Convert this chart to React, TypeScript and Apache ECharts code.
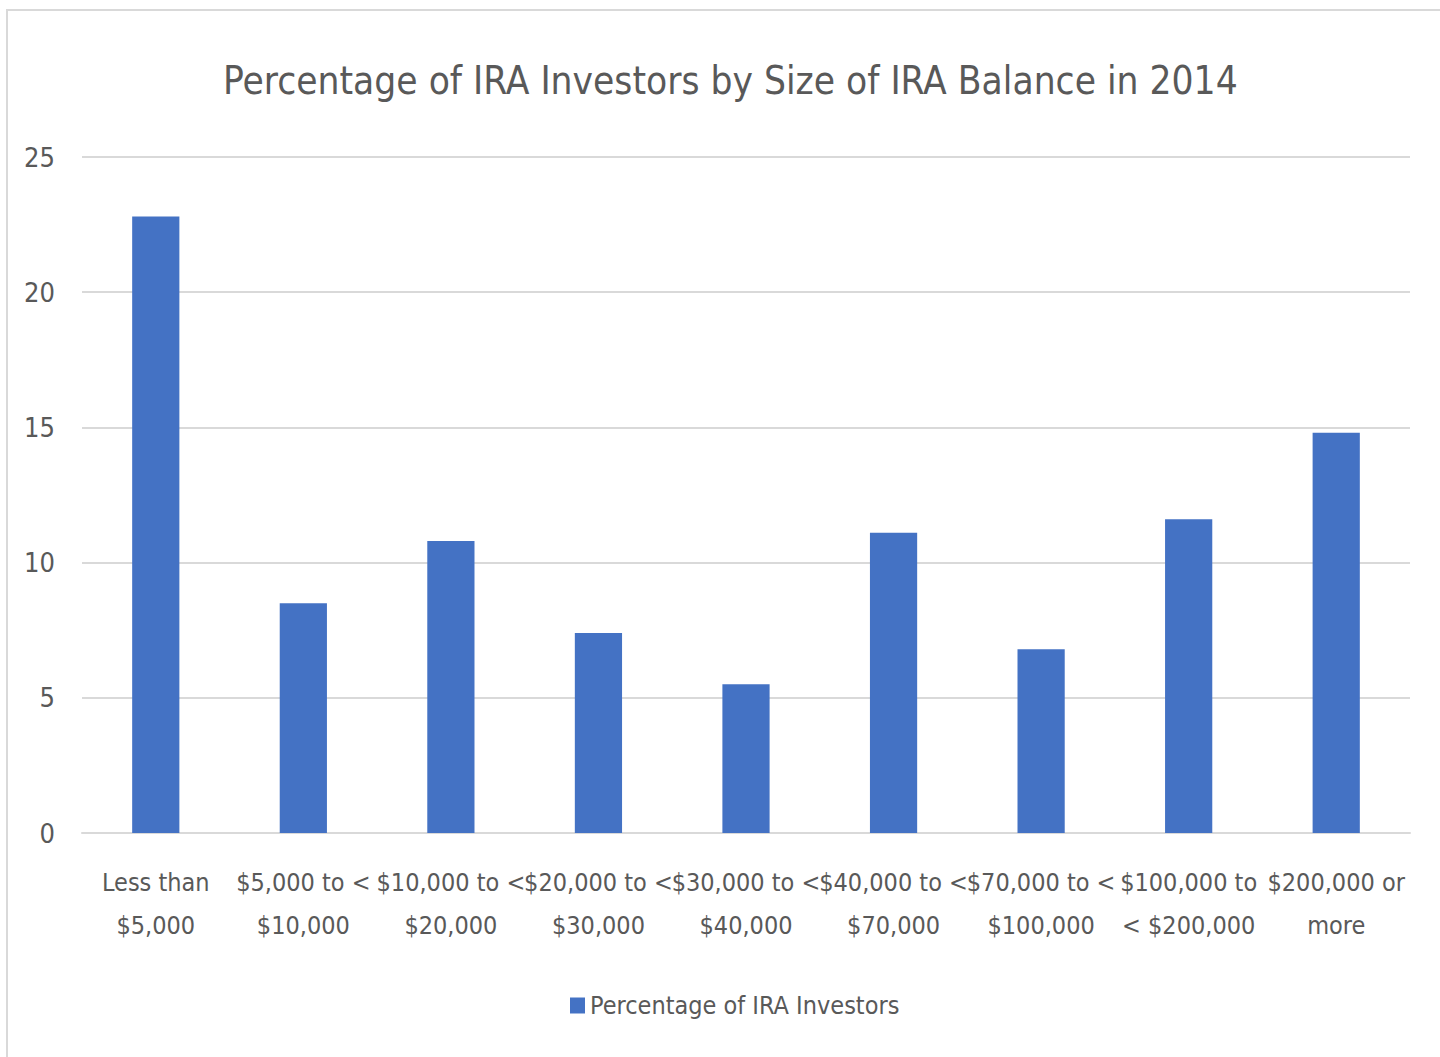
import React, { useEffect, useRef } from "react";
import * as echarts from "echarts";

const categories = [
  "Less than\n$5,000",
  "$5,000 to <\n$10,000",
  "$10,000 to <\n$20,000",
  "$20,000 to <\n$30,000",
  "$30,000 to <\n$40,000",
  "$40,000 to <\n$70,000",
  "$70,000 to <\n$100,000",
  "$100,000 to\n< $200,000",
  "$200,000 or\nmore",
];
const values = [22.8, 8.5, 10.8, 7.4, 5.5, 11.1, 6.8, 11.6, 14.8];
const seriesName = "Percentage of IRA Investors";
const titleText = "Percentage of IRA Investors by Size of IRA Balance in 2014";

const FONT = "'Liberation Sans Narrow', 'DejaVu Sans Condensed', 'Open Sans', sans-serif";

export default function App() {
  const ref = useRef<HTMLDivElement>(null);
  useEffect(() => {
    document.body.style.margin = "0";
    const chart = echarts.init(ref.current!, null, { renderer: "svg" });
    chart.setOption({
      animation: false,
      backgroundColor: "#ffffff",
      textStyle: { fontFamily: FONT },
      title: {
        text: titleText,
        left: 218,
        top: 56,
        textStyle: { fontFamily: FONT, fontSize: 38.5, fontWeight: "normal", color: "#595959" },
      },
      graphic: [
        {
          type: "rect",
          shape: { x: 7, y: 10, width: 1460, height: 1080 },
          style: { fill: "none", stroke: "#d9d9d9", lineWidth: 2 },
          silent: true,
        },
      ],
      legend: {
        bottom: 34,
        left: 565,
        itemWidth: 15,
        itemHeight: 16,
        itemGap: 8,
        icon: "rect",
        textStyle: { fontFamily: FONT, fontSize: 25, color: "#595959" },
        data: [seriesName],
      },
      grid: { left: 82, right: 30, top: 157, bottom: 224, containLabel: false },
      xAxis: {
        type: "category",
        data: categories,
        axisLine: { show: true, lineStyle: { color: "#d9d9d9", width: 2 } },
        axisTick: { show: false },
        axisLabel: {
          interval: 0,
          margin: 28,
          fontFamily: FONT,
          fontSize: 25,
          lineHeight: 43,
          color: "#595959",
        },
      },
      yAxis: {
        type: "value",
        min: 0,
        max: 25,
        interval: 5,
        axisLine: { show: false },
        axisTick: { show: false },
        splitLine: { lineStyle: { color: "#d9d9d9", width: 2 } },
        axisLabel: { margin: 27, fontFamily: FONT, fontSize: 27, color: "#595959" },
      },
      series: [
        {
          name: seriesName,
          type: "bar",
          data: values,
          barWidth: "32%",
          itemStyle: { color: "#4472c4" },
        },
      ],
    });
    return () => chart.dispose();
  }, []);
  return (
    <div
      ref={ref}
      style={{ position: "absolute", left: 0, top: 0, width: 1440, height: 1057 }}
    />
  );
}
